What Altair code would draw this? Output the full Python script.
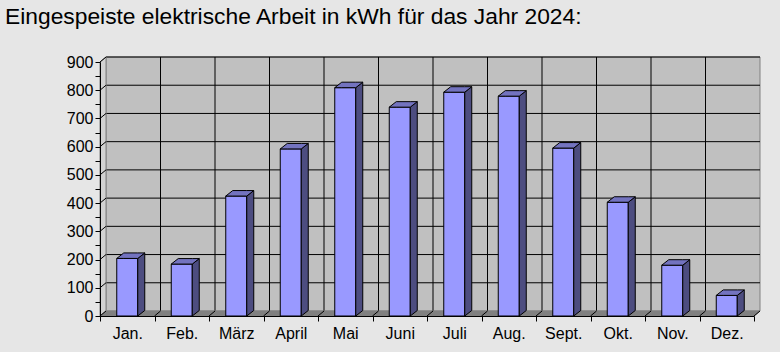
import altair as alt
import pandas as pd

# ---- data ----
months = ["Jan.", "Feb.", "März", "April", "Mai", "Juni", "Juli", "Aug.", "Sept.", "Okt.", "Nov.", "Dez."]
values = [204, 184, 425, 592, 809, 740, 793, 779, 595, 403, 180, 73]
y_ticks = list(range(0, 901, 50))
x_ticks = list(range(len(months) + 1))
title = "Eingespeiste elektrische Arbeit in kWh für das Jahr 2024:"

# ---- geometry (pixels) ----
W, H = 654, 254
YMAX = 900
N = len(months)
K = W / N          # px per category
P = H / YMAX       # px per value unit
WDX, WDY = 6 / K, 5 / P       # wall depth in data units
BDX, BDY = 7 / K, 5.5 / P     # bar depth in data units
HW = 10.5 / K                 # half bar width in data units

FONT = "Liberation Sans"
xs = alt.Scale(domain=[0, N], nice=False, zero=False)
ys = alt.Scale(domain=[0, YMAX], nice=False, zero=False)

month_arr = "[" + ",".join("'" + m + "'" for m in months) + "]"

x_axis = alt.Axis(values=x_ticks, labelExpr=f"datum.value < {N} ? {month_arr}[datum.value] : ''",
                  labelOffset=K / 2, labelFlush=False, labelOverlap=False, title=None, grid=False,
                  domainColor="black", tickColor="black", tickSize=5, labelFont=FONT, labelFontSize=16,
                  labelColor="black", labelPadding=4, zindex=2)
y_axis = alt.Axis(values=y_ticks, labelExpr="datum.value % 100 === 0 ? datum.label : ''", title=None,
                  grid=False, domainColor="black", tickColor="black", tickSize=5, labelFont=FONT,
                  labelFontSize=16, labelColor="black", labelPadding=2, zindex=2)


def enc(ch, **kw):
    """encode with shared scales and the same axes in every layer"""
    return ch.encode(x=alt.X(kw.pop("x"), scale=xs, axis=x_axis),
                     y=alt.Y(kw.pop("y"), scale=ys, axis=y_axis), **kw)


# back wall
wall = pd.DataFrame({"x": [WDX], "x2": [N + WDX], "y": [WDY], "y2": [YMAX + WDY]})
back = enc(alt.Chart(wall).mark_rect(fill="#c0c0c0", stroke="#808080", strokeWidth=1),
           x="x:Q", x2="x2:Q", y="y:Q", y2="y2:Q")

# back wall grid
hgrid = pd.DataFrame({"v": [v + WDY for v in range(100, YMAX + 1, 100)], "x": WDX, "x2": N + WDX})
hg = enc(alt.Chart(hgrid).mark_rule(color="black", strokeWidth=1), x="x:Q", x2="x2:Q", y="v:Q")
vgrid = pd.DataFrame({"k": [k + WDX for k in range(1, N)], "y": WDY, "y2": YMAX + WDY})
vg = enc(alt.Chart(vgrid).mark_rule(color="black", strokeWidth=1), x="k:Q", y="y:Q", y2="y2:Q")

# left side wall
lw = pd.DataFrame({"x": [0, WDX], "y": [0, WDY], "y2": [YMAX, YMAX + WDY]})
left = enc(alt.Chart(lw).mark_area(fill="#d2d2d2", stroke="#808080", strokeWidth=1),
           x="x:Q", y="y:Q", y2="y2:Q")
ldiag = pd.DataFrame({"x": 0.0, "x2": WDX, "y": list(range(100, YMAX + 1, 100))})
ldiag["y2"] = ldiag["y"] + WDY
ld = enc(alt.Chart(ldiag).mark_rule(color="black", strokeWidth=1), x="x:Q", x2="x2:Q", y="y:Q", y2="y2:Q")

# floor
fl = pd.DataFrame({"x": [0, WDX, N, N + WDX], "y": [0, 0, 0, WDY], "y2": [0, WDY, WDY, WDY]})
floor = enc(alt.Chart(fl).mark_area(fill="#808080", stroke="#808080", strokeWidth=1),
            x="x:Q", y="y:Q", y2="y2:Q")
fdiag = pd.DataFrame({"x": [float(k) for k in range(N + 1)]})
fdiag["x2"] = fdiag["x"] + WDX
fdiag["y"] = 0.0
fdiag["y2"] = WDY
fd = enc(alt.Chart(fdiag).mark_rule(color="black", strokeWidth=1), x="x:Q", x2="x2:Q", y="y:Q", y2="y2:Q")

# bars
front_rows, side_rows, top_rows = [], [], []
for i, (m, v) in enumerate(zip(months, values)):
    c = i + 0.5
    xl, xr = c - HW, c + HW
    front_rows.append({"m": m, "x": xl, "x2": xr, "y": 0, "y2": v})
    side_rows += [{"m": m, "x": xr, "y": v, "y2": 0},
                  {"m": m, "x": xr + BDX, "y": v + BDY, "y2": BDY}]
    top_rows += [{"m": m, "x": xl, "y": v, "y2": v},
                 {"m": m, "x": xl + BDX, "y": v, "y2": v + BDY},
                 {"m": m, "x": xr, "y": v, "y2": v + BDY},
                 {"m": m, "x": xr + BDX, "y": v + BDY, "y2": v + BDY}]

front = enc(alt.Chart(pd.DataFrame(front_rows)).mark_rect(fill="#9999ff", stroke="black", strokeWidth=1),
            x="x:Q", x2="x2:Q", y="y:Q", y2="y2:Q")
side = enc(alt.Chart(pd.DataFrame(side_rows)).mark_area(fill="#4d4d80", stroke="black", strokeWidth=1),
           x="x:Q", y="y:Q", y2="y2:Q", detail="m:N")
top = enc(alt.Chart(pd.DataFrame(top_rows)).mark_area(fill="#7373bf", stroke="black", strokeWidth=1),
          x="x:Q", y="y:Q", y2="y2:Q", detail="m:N")

chart = alt.layer(back, hg, vg, left, ld, floor, fd, front, side, top).properties(
    width=W, height=H,
    autosize=alt.AutoSizeParams(type="none"),
    padding={"left": 100, "top": 62, "right": 780 - 100 - W, "bottom": 352 - 62 - H},
    background="#e6e6e6",
    title=alt.TitleParams(title, anchor="start", frame="group", dx=-95, offset=25, fontSize=22.8,
                          font=FONT, fontWeight="normal", color="black"),
).configure_view(stroke=None)

chart.save("out.html", embed_options={"renderer": "svg", "actions": False})
